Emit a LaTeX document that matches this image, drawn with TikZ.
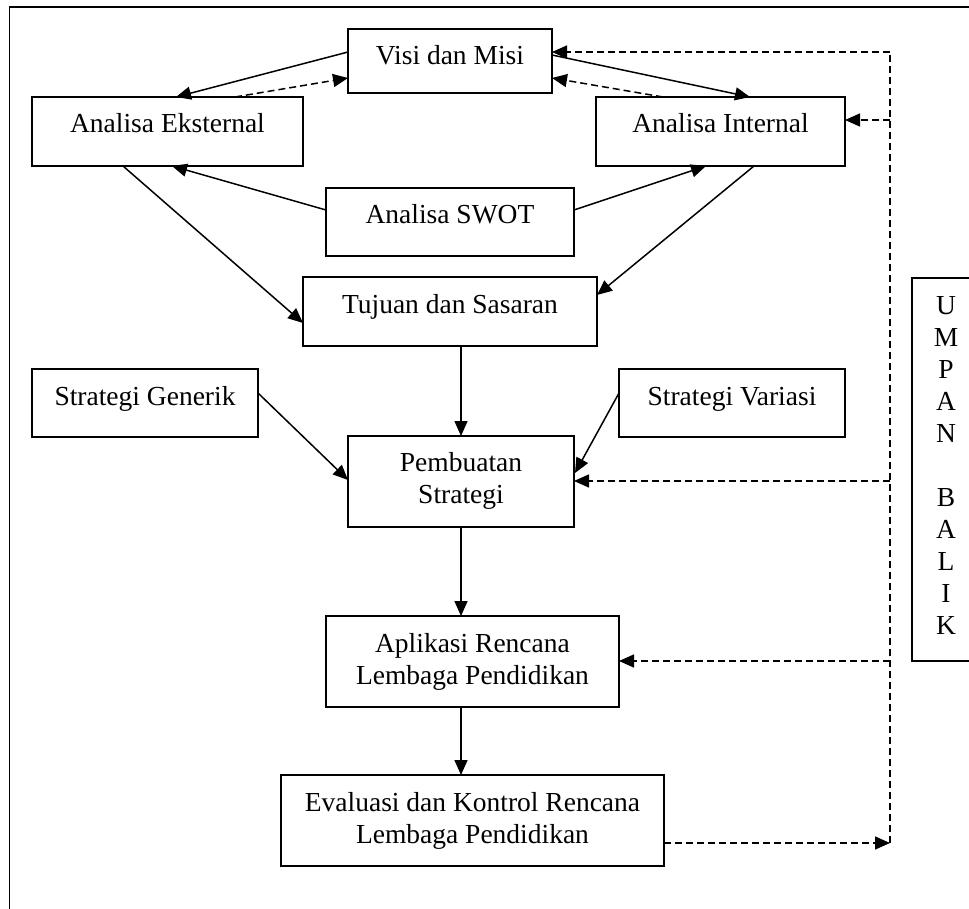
\documentclass[tikz,border=0pt]{standalone}
\usepackage{fontspec}
\setmainfont{Liberation Serif}
\usetikzlibrary{arrows.meta,calc}
\begin{document}
\begin{tikzpicture}[x=1pt,y=-1pt,
  box/.style={draw, line width=1.5pt, inner sep=0pt, outer sep=0pt, rectangle},
  lbl/.style={anchor=base, inner sep=0pt, align=center,
              font=\fontsize{27.5}{31.5}\selectfont},
  conn/.style={line width=1.5pt, -{Triangle[length=15pt,width=13pt]}},
  dconn/.style={line width=1.5pt, dash pattern=on 7pt off 4pt,
                -{Triangle[length=15pt,width=13pt]}},
  dline/.style={line width=1.5pt, dash pattern=on 7pt off 4pt}]
\clip (0,0) rectangle (969,909);
% outer frame
\draw[line width=1.3pt] (9.5,7) rectangle (1000,950);

% boxes
\node[box, minimum width=204pt, minimum height=64pt] (visi) at (450,61) {};
\node[box, minimum width=271pt, minimum height=69pt] (eks)  at (167.5,131.5) {};
\node[box, minimum width=249pt, minimum height=69pt] (int)  at (720.5,131.5) {};
\node[box, minimum width=248pt, minimum height=68pt] (swot) at (450,222) {};
\node[box, minimum width=294pt, minimum height=69pt] (tuj)  at (450,311.5) {};
\node[box, minimum width=226pt, minimum height=68pt] (gen)  at (145,403) {};
\node[box, minimum width=226pt, minimum height=68pt] (var)  at (732,403) {};
\node[box, minimum width=226pt, minimum height=91pt] (pemb) at (461,481.5) {};
\node[box, minimum width=293pt, minimum height=91pt] (apl)  at (472.5,661.5) {};
\node[box, minimum width=383pt, minimum height=91pt] (eva)  at (472.5,820.5) {};
\node[box, minimum width=88pt, minimum height=383pt] (umpan) at (956,469.5) {};

% texts (multi-line texts sit on the baseline of their last line)
\node[lbl] (visiT) at (450,65) {Visi dan Misi};
\node[lbl] (eksT)  at (167.5,133) {Analisa Eksternal};
\node[lbl] (intT)  at (720.5,133) {Analisa Internal};
\node[lbl] (swotT) at (450,224) {Analisa SWOT};
\node[lbl] (tujT)  at (450,313) {Tujuan dan Sasaran};
\node[lbl] (genT)  at (145,405) {Strategi Generik};
\node[lbl] (varT)  at (732,405) {Strategi Variasi};
\node[lbl] (pembT) at (461,503) {Pembuatan\\Strategi};
\node[lbl] (aplT)  at (472.5,684) {Aplikasi Rencana\\Lembaga Pendidikan};
\node[lbl] (evaT)  at (472.5,843) {Evaluasi dan Kontrol Rencana\\Lembaga Pendidikan};
\node[lbl, font=\fontsize{27.5}{32}\selectfont] (umpanT) at (946,634)
  {U\\M\\P\\A\\N\\\mbox{}\\B\\A\\L\\I\\K};

% connectors around the analysis stage
\draw[conn]  ($(visi.north west)+(0,23)$) -- ($(eks.north west)+(144,0)$);
\draw[dconn] ($(eks.north west)+(203,0)$) -- ($(visi.north west)+(0,49)$);
\draw[conn]  ($(visi.north east)+(0,26)$) -- ($(int.north west)+(154,0)$);
\draw[dconn] ($(int.north west)+(67,0)$) -- ($(visi.north east)+(0,49)$);
\draw[conn]  ($(swot.north west)+(0,22)$) -- ($(eks.south west)+(140,0)$);
\draw[conn]  ($(swot.north east)+(0,22)$) -- ($(int.south west)+(110,0)$);
\draw[conn]  ($(eks.south west)+(91,0)$) -- ($(tuj.north west)+(0,46)$);
\draw[conn]  ($(int.south west)+(158,0)$) -- ($(tuj.north east)+(0,18)$);

% main chain
\draw[conn] (tuj.south -| pemb.north) -- (pemb.north);
\draw[conn] ($(gen.north east)+(0,24)$) -- ($(pemb.north west)+(0,44)$);
\draw[conn] ($(var.north west)+(0,24)$) -- ($(pemb.north east)+(1,37)$);
\draw[conn] (pemb.south) -- (pemb.south |- apl.north);
\draw[conn] (apl.south -| pemb.south) -- (eva.north -| pemb.south);

% feedback loop
\coordinate (fbTop)  at (890,52);
\coordinate (fbInt)  at (890,120);
\coordinate (fbPemb) at (890,481);
\coordinate (fbApl)  at (890,661);
\coordinate (fbBot)  at (890,843);
\draw[dconn] ($(eva.south east)+(0,-23)$) -- (fbBot);
\draw[dline] (fbBot) -- (fbTop);
\draw[dconn] (fbTop) -- (fbTop -| visi.east);
\draw[dconn] (fbInt) -- (fbInt -| int.east);
\draw[dconn] (fbPemb) -- (fbPemb -| pemb.east);
\draw[dconn] (fbApl) -- (fbApl -| apl.east);
\end{tikzpicture}
\end{document}
